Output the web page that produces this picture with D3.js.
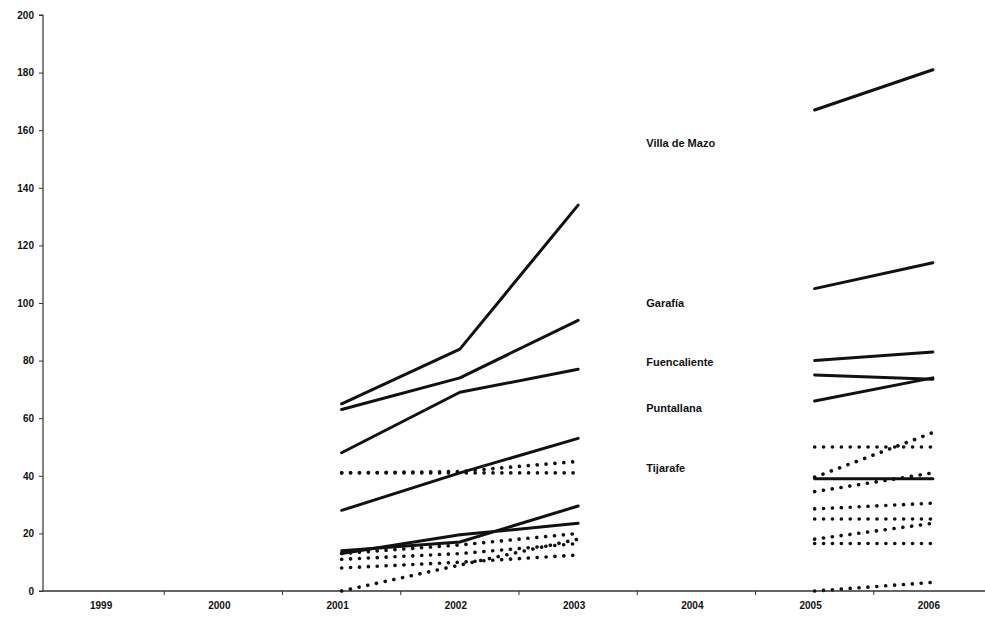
<!DOCTYPE html>
<html>
<head>
<meta charset="utf-8">
<script src="https://cdn.jsdelivr.net/npm/d3@7"></script>
<style>
  html, body { margin: 0; padding: 0; background: #fff; }
  svg { display: block; }
  .tick text { font-family: "Liberation Sans", Arial, sans-serif; font-weight: bold; font-size: 10px; fill: #111; }
  .lbl { font-family: "Liberation Sans", Arial, sans-serif; font-weight: bold; font-size: 11px; fill: #111; }
</style>
</head>
<body>
<svg id="chart" width="985" height="620"></svg>
<script>
// ---- data ----
const years = ["1999", "2000", "2001", "2002", "2003", "2004", "2005", "2006"];
const yTicks = [0, 20, 40, 60, 80, 100, 120, 140, 160, 180, 200];

// solid series (values per year, null = no data)
const villaDeMazo  = [null, null, 65, 84, 134, null, 167, 181];
const garafia      = [null, null, 63, 74, 94, null, 105, 114];
const fuencaliente = [null, null, 48, 69, 77, null, 80, 83];
const puntallana   = [null, null, 28, 41, 53, null, 66, 74];
const solidE       = [null, null, 14, 17, 29.5, null, 75, 73.5];
const tijarafe     = [null, null, 13, 19.5, 23.5, null, 39, 39];

// dotted series
const dotA = [null, null, 41, 41, 41, null, 50, 50];
const dotB = [null, null, 41, 41.5, 45, null, 39.5, 55];
const dotC = [null, null, 13, 16, 20, null, 34.5, 41];
const dotD = [null, null, 11, 13, 16.5, null, 28.5, 30.5];
const dotE = [null, null, 8, 10, 12.5, null, 25, 25];
const dotF = [null, null, 0, 9, 18, null, 18, 23.5];
const dotG = [null, null, null, null, null, null, 16.5, 16.5];
const dotH = [null, null, null, null, null, null, 0, 3];

const solidSeries  = [villaDeMazo, garafia, fuencaliente, puntallana, solidE, tijarafe];
const dottedSeries = [dotA, dotB, dotC, dotD, dotE, dotF, dotG, dotH];

const labelNames  = ["Villa de Mazo", "Garafía", "Fuencaliente", "Puntallana", "Tijarafe"];
const labelValues = [155.5, 100, 79.5, 63.5, 42.7];

// ---- chart ----
const svg = d3.select("#chart");
const margin = { left: 43, right: 0, top: 15, bottom: 29 };
const W = 985, H = 620;

const x = d3.scaleBand().domain(years).range([46, 992]);
const y = d3.scaleLinear().domain([0, 200]).range([H - margin.bottom, margin.top]);

const xc = d => x(d) + x.bandwidth() / 2;

// y axis
const yAxis = d3.axisLeft(y).tickValues(yTicks).tickSize(4).tickPadding(5);
const gy = svg.append("g").attr("transform", `translate(${margin.left},0)`).call(yAxis);
gy.select(".domain").attr("stroke", "#333").attr("stroke-width", 1.2).attr("d", `M-4,${y(0)}H0V${y(200)}H-4`);
gy.selectAll(".tick line").attr("stroke", "#333");

// x axis
const gx = svg.append("g").attr("transform", `translate(0,${y(0)})`);
gx.append("line").attr("x1", margin.left).attr("x2", W).attr("y1", 0).attr("y2", 0)
  .attr("stroke", "#333").attr("stroke-width", 1.5);
const bounds = years.slice(1).map(yr => x(yr));
gx.selectAll("line.tk").data(bounds).enter().append("line")
  .attr("class", "tk").attr("x1", d => d).attr("x2", d => d).attr("y1", 0).attr("y2", 4)
  .attr("stroke", "#333");
gx.selectAll("text").data(years).enter().append("text")
  .attr("class", "tick-lbl")
  .attr("x", d => xc(d) - 4).attr("y", 18)
  .attr("text-anchor", "middle")
  .style("font-family", "Liberation Sans, Arial, sans-serif")
  .style("font-weight", "bold").style("font-size", "10px").style("fill", "#111")
  .text(d => d);

// lines
const line = d3.line()
  .defined(d => d.v !== null)
  .x(d => xc(d.yr))
  .y(d => y(d.v));

const toPts = arr => arr.map((v, i) => ({ yr: years[i], v }));

svg.append("g").selectAll("path").data(dottedSeries).enter().append("path")
  .attr("d", s => line(toPts(s)))
  .attr("fill", "none").attr("stroke", "#111")
  .attr("stroke-width", 3.6).attr("stroke-linecap", "round")
  .attr("stroke-dasharray", "0.1 8.8");

svg.append("g").selectAll("path").data(solidSeries).enter().append("path")
  .attr("d", s => line(toPts(s)))
  .attr("fill", "none").attr("stroke", "#111")
  .attr("stroke-width", 3).attr("stroke-linejoin", "round").attr("stroke-linecap", "round");

// labels
svg.append("g").selectAll("text").data(labelNames).enter().append("text")
  .attr("class", "lbl")
  .attr("x", x("2004") + 9)
  .attr("y", (d, i) => y(labelValues[i]) + 4)
  .text(d => d);
</script>
</body>
</html>
